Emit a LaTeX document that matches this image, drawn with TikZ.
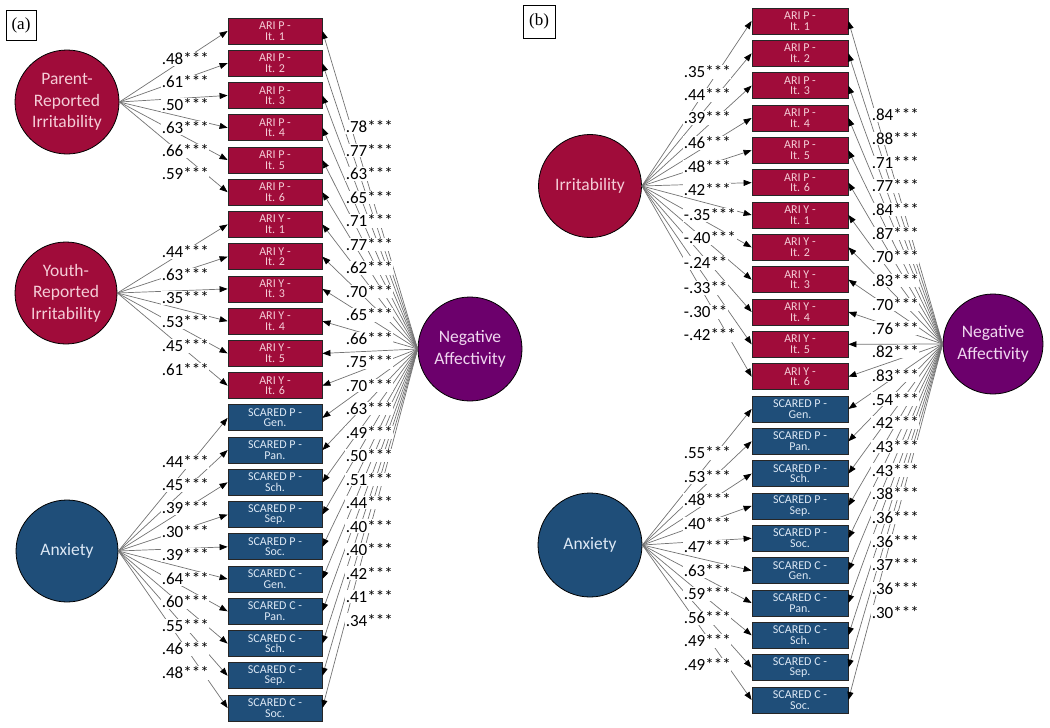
\documentclass[tikz,border=0pt]{standalone}
\usepackage{fontspec}
\setmainfont{Carlito}
\newfontfamily\serifx{Liberation Serif}
\usetikzlibrary{arrows.meta}
\definecolor{ired}{RGB}{160,12,58}
\definecolor{ablue}{RGB}{31,78,121}
\definecolor{napurple}{RGB}{108,0,108}
\definecolor{redtxt}{RGB}{245,205,215}
\definecolor{bluetxt}{RGB}{220,232,245}
\definecolor{purptxt}{RGB}{240,215,240}
\tikzset{
 item/.style={draw=black!85, line width=0.8pt, minimum height=26pt, inner sep=0pt, align=center, font=\fontsize{12}{10.5}\selectfont},
 reditem/.style={item, fill=ired, text=redtxt},
 blueitem/.style={item, fill=ablue, text=bluetxt},
 latent/.style={circle, draw=black, line width=0.8pt, inner sep=0pt, align=center, font=\fontsize{17.5}{21.5}\selectfont},
 ld/.style={draw=black!55, line width=0.7pt, -{Triangle[length=8pt,width=6pt,color=black]}},
 lab/.style={anchor=west, fill=white, inner sep=0.6pt, font=\fontsize{17}{17}\selectfont},
 tagbox/.style={draw, line width=0.6pt, font=\serifx\fontsize{17}{17}\selectfont, inner sep=0pt}
}
\begin{document}
\begin{tikzpicture}[x=1pt,y=-1pt]
\useasboundingbox (0,0) rectangle (1050,728);
% ---------------- panel (a) ----------------
\node[tagbox, minimum width=30pt, minimum height=30pt] (tagA) at (21,25) {(a)};
\foreach \t [count=\i] in {{ARI P -\\It. 1},{ARI P -\\It. 2},{ARI P -\\It. 3},{ARI P -\\It. 4},{ARI P -\\It. 5},{ARI P -\\It. 6},{ARI Y -\\It. 1},{ARI Y -\\It. 2},{ARI Y -\\It. 3},{ARI Y -\\It. 4},{ARI Y -\\It. 5},{ARI Y -\\It. 6}}
  \node[reditem, minimum width=94pt] (a\i) at (275,{31+32.24*(\i-1)}) {\t};
\foreach \t [count=\i from 13] in {{SCARED P -\\Gen.},{SCARED P -\\Pan.},{SCARED P -\\Sch.},{SCARED P -\\Sep.},{SCARED P -\\Soc.},{SCARED C -\\Gen.},{SCARED C -\\Pan.},{SCARED C -\\Sch.},{SCARED C -\\Sep.},{SCARED C -\\Soc.}}
  \node[blueitem, minimum width=94pt] (a\i) at (275,{31+32.24*(\i-1)}) {\t};
\node[latent, fill=ired, text=redtxt, minimum size=104pt] (PI) at (67,102) {Parent-\\Reported\\Irritability};
\node[latent, fill=ired, text=redtxt, minimum size=102pt] (YI) at (66,293) {Youth-\\Reported\\Irritability};
\node[latent, fill=ablue, text=bluetxt, minimum size=102pt] (AX) at (67,551) {Anxiety};
\node[latent, fill=napurple, text=purptxt, minimum size=104pt] (NA) at (470,349) {Negative\\Affectivity};
\foreach \i in {1,...,6} \draw[ld] (PI.east) -- (a\i.west);
\foreach \i in {7,...,12} \draw[ld] (YI.east) -- (a\i.west);
\foreach \i in {13,...,22} \draw[ld] (AX.east) -- (a\i.west);
\foreach \i in {1,...,22} \draw[ld] (NA.west) -- (a\i.east);
\foreach \v/\y [count=\k] in {.48***/59,.61***/82,.50***/105,.63***/128,.66***/151,.59***/174,
  .44***/252,.63***/275,.35***/298,.53***/322,.45***/346,.61***/370,
  .44***/462,.45***/485,.39***/508,.30***/532,.39***/555,.64***/579,.60***/602,.55***/626,.46***/649,.48***/673}
  \node[lab] (la\k) at (161,\y) {\v};
\foreach \v [count=\k] in {.78***,.77***,.63***,.65***,.71***,.77***,.62***,.70***,.65***,.66***,.75***,.70***,.63***,.49***,.50***,.51***,.44***,.40***,.40***,.42***,.41***,.34***}
  \node[lab] (ra\k) at (345,{127+23.48*(\k-1)}) {\v};
% ---------------- panel (b) ----------------
\node[tagbox, minimum width=32pt, minimum height=33pt] (tagB) at (539,21.5) {(b)};
\foreach \t [count=\i] in {{ARI P -\\It. 1},{ARI P -\\It. 2},{ARI P -\\It. 3},{ARI P -\\It. 4},{ARI P -\\It. 5},{ARI P -\\It. 6},{ARI Y -\\It. 1},{ARI Y -\\It. 2},{ARI Y -\\It. 3},{ARI Y -\\It. 4},{ARI Y -\\It. 5},{ARI Y -\\It. 6}}
  \node[reditem, minimum width=96pt] (b\i) at (800,{21+32.33*(\i-1)}) {\t};
\foreach \t [count=\i from 13] in {{SCARED P -\\Gen.},{SCARED P -\\Pan.},{SCARED P -\\Sch.},{SCARED P -\\Sep.},{SCARED P -\\Soc.},{SCARED C -\\Gen.},{SCARED C -\\Pan.},{SCARED C -\\Sch.},{SCARED C -\\Sep.},{SCARED C -\\Soc.}}
  \node[blueitem, minimum width=96pt] (b\i) at (800,{21+32.33*(\i-1)}) {\t};
\node[latent, fill=ired, text=redtxt, minimum size=103pt] (IR) at (590,186) {Irritability};
\node[latent, fill=ablue, text=bluetxt, minimum size=104pt] (AXb) at (590,545) {Anxiety};
\node[latent, fill=napurple, text=purptxt, minimum size=100pt] (NAb) at (993,344) {Negative\\Affectivity};
\foreach \i in {1,...,12} \draw[ld] (IR.east) -- (b\i.west);
\foreach \i in {13,...,22} \draw[ld] (AXb.east) -- (b\i.west);
\foreach \i in {1,...,22} \draw[ld] (NAb.west) -- (b\i.east);
\foreach \v/\y [count=\k] in {.35***/72,.44***/95,.39***/118,.46***/143,.48***/167,.42***/190,-.35***/215,-.40***/238,-.24**/263,-.33**/288,-.30**/312,-.42***/335,
  .55***/453,.53***/477,.48***/500,.40***/524,.47***/547,.63***/571,.59***/594,.56***/618,.49***/641,.49***/665}
  \node[lab] (lb\k) at (683,\y) {\v};
\foreach \v [count=\k] in {.84***,.88***,.71***,.77***,.84***,.87***,.70***,.83***,.70***,.76***,.82***,.83***,.54***,.42***,.43***,.43***,.38***,.36***,.36***,.37***,.36***,.30***}
  \node[lab] (rb\k) at (871,{115+23.67*(\k-1)}) {\v};
\end{tikzpicture}
\end{document}
